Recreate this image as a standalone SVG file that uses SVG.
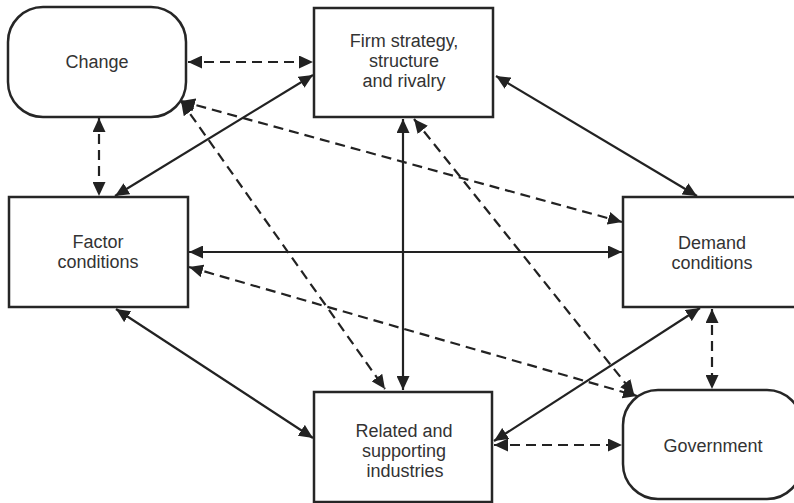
<svg xmlns="http://www.w3.org/2000/svg" width="794" height="503" viewBox="0 0 794 503">
<style>
.box{fill:#fff;stroke:#262626;stroke-width:2.5}
.t{font-family:"Liberation Sans",Arial,sans-serif;font-size:18px;fill:#333;text-anchor:middle}
.s{fill:none;stroke:#222;stroke-width:2.2;marker-start:url(#ah);marker-end:url(#ah)}
.d{fill:none;stroke:#222;stroke-width:2.2;stroke-dasharray:10 6;marker-start:url(#ah);marker-end:url(#ah)}
</style>
<defs>
<marker id="ah" viewBox="0 0 14 13" refX="14" refY="6.5" markerWidth="14" markerHeight="13" markerUnits="userSpaceOnUse" orient="auto-start-reverse">
<path d="M0,0 L14,6.5 L0,13 z" fill="#222"/>
</marker>
</defs>
<rect width="794" height="503" fill="#fff"/>
<g id="connectors">
<line class="d" x1="188" y1="62" x2="313" y2="62"/>
<line class="d" x1="99" y1="118" x2="99" y2="196"/>
<line class="s" x1="313" y1="75" x2="115" y2="196"/>
<line class="d" x1="181" y1="101" x2="622" y2="222"/>
<line class="d" x1="181" y1="101" x2="385" y2="389"/>
<line class="s" x1="403" y1="119" x2="403" y2="390"/>
<line class="s" x1="496" y1="76" x2="697" y2="196"/>
<line class="s" x1="189" y1="252" x2="622" y2="252"/>
<line class="d" x1="189" y1="267" x2="637" y2="396"/>
<line class="d" x1="414" y1="119" x2="634" y2="394"/>
<line class="s" x1="116" y1="309" x2="313" y2="438"/>
<line class="s" x1="700" y1="308" x2="494" y2="441"/>
<line class="d" x1="712" y1="309" x2="712" y2="389"/>
<line class="d" x1="494" y1="445" x2="622" y2="445"/>
</g>
<g id="change">
<rect class="box" x="8" y="7" width="178" height="110" rx="35" ry="35"/>
<text class="t" x="97" y="68">Change</text>
</g>
<g id="firm">
<rect class="box" x="314" y="8" width="179" height="109"/>
<text class="t" x="404" y="47">Firm strategy,</text>
<text class="t" x="404" y="67">structure</text>
<text class="t" x="404" y="87">and rivalry</text>
</g>
<g id="factor">
<rect class="box" x="9" y="197" width="179" height="110"/>
<text class="t" x="98" y="248">Factor</text>
<text class="t" x="98" y="268">conditions</text>
</g>
<g id="demand">
<rect class="box" x="623" y="197" width="179" height="110"/>
<text class="t" x="712" y="249">Demand</text>
<text class="t" x="712" y="269">conditions</text>
</g>
<g id="related">
<rect class="box" x="314" y="392" width="178" height="110"/>
<text class="t" x="404" y="437">Related and</text>
<text class="t" x="404" y="457">supporting</text>
<text class="t" x="405" y="477">industries</text>
</g>
<g id="government">
<rect class="box" x="623" y="390" width="179" height="109" rx="35" ry="35"/>
<text class="t" x="713" y="452">Government</text>
</g>
</svg>
